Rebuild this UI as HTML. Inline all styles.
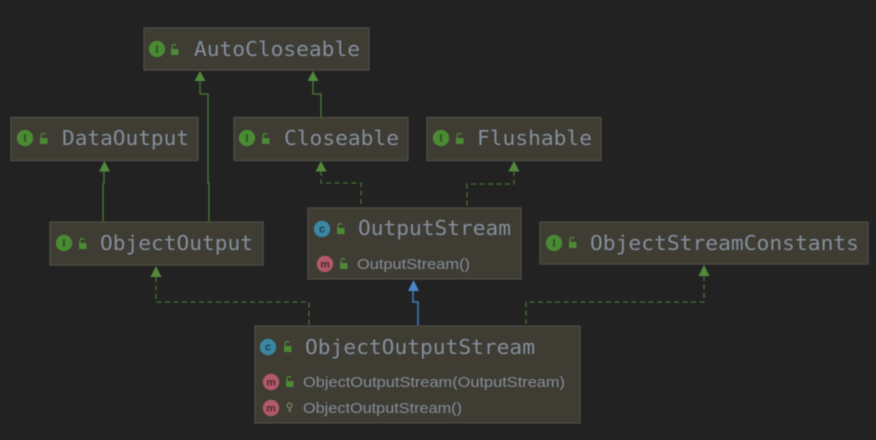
<!DOCTYPE html>
<html><head><meta charset="utf-8">
<style>
html,body{margin:0;padding:0;background:#222222;width:876px;height:440px;overflow:hidden}
svg{display:block;filter:blur(0.5px)}
.t{font-family:"DejaVu Sans Mono","Liberation Mono",monospace;font-size:20.5px;fill:#848e9c}
.m{font-family:"Liberation Sans",sans-serif;font-size:15px;fill:#868d98}
.b{fill:#3e3c33;stroke:#514f47;stroke-width:1.2}
.s{fill:none;stroke:#4a7c35;stroke-width:1.3}
.d{stroke-dasharray:5 3.5;stroke:#467233}
.a{fill:#528a3a}
.i{font-family:"Liberation Serif",serif;font-size:10px;font-weight:bold;text-anchor:middle}
</style></head><body>
<svg width="876" height="440" viewBox="0 0 876 440" xmlns="http://www.w3.org/2000/svg">
<defs>
<g id="lock"><rect x="-2" y="-1" width="7.500" height="6" fill="#4e8a36"/><path d="M-1-1V-3.600a2.200 2.200 0 0 1 4.200-.6" fill="none" stroke="#4e8a36" stroke-width="1.200"/></g>
<g id="ii"><circle r="8.200" fill="#4a8a33"/><text class="i" y="3.500" fill="#2a4a20">I</text></g>
<g id="cc"><circle r="8.200" fill="#3a87a3"/><text x="0" y="3.600" font-family="Liberation Sans,sans-serif" font-size="11" font-weight="bold" text-anchor="middle" fill="#1f3f4e">c</text></g>
<g id="mm"><circle r="8.200" fill="#b2596b"/><text x="0" y="3.400" font-family="Liberation Sans,sans-serif" font-size="10.500" font-weight="bold" text-anchor="middle" fill="#4f2630">m</text></g>
</defs>
<rect width="876" height="440" fill="#222222"/>

<!-- connectors -->
<path class="s" d="M200 81V94H208V183H209V222"/>
<path class="a" d="M200 71L205.500 81H194.500Z"/>
<path class="s" d="M313 81V94H321V117"/>
<path class="a" d="M313 71L318.500 81H307.500Z"/>
<path class="s" d="M104 171V184H103V222"/>
<path class="a" d="M104.500 161L110 171.500H99Z"/>
<path class="s d" d="M321 171V183H361V208"/>
<path class="a" d="M321 161L326.500 171.500H315.500Z"/>
<path class="s d" d="M514 171V184H467V208"/>
<path class="a" d="M514 161L519.500 171.500H508.500Z"/>
<path class="s d" d="M704 276V302H526V326"/>
<path class="a" d="M704 265L709.500 276H698.500Z"/>
<path class="s d" d="M156 277V302H309V326"/>
<path class="a" d="M156 266L161.500 277H150.500Z"/>
<path fill="none" stroke="#3f78b8" stroke-width="1.600" d="M413 290V302H418V326"/>
<path fill="#4a86c8" d="M413.500 280L419 291H408Z"/>

<!-- AutoCloseable -->
<rect class="b" x="144" y="28" width="225" height="42"/>
<use href="#ii" x="157" y="49"/><use href="#lock" x="173" y="50"/>
<text class="t" x="194" y="56" textLength="166" lengthAdjust="spacingAndGlyphs">AutoCloseable</text>

<!-- DataOutput -->
<rect class="b" x="11" y="117.500" width="187" height="43"/>
<use href="#ii" x="25" y="138"/><use href="#lock" x="42" y="139"/>
<text class="t" x="62" y="145" textLength="127" lengthAdjust="spacingAndGlyphs">DataOutput</text>

<!-- Closeable -->
<rect class="b" x="234" y="117.500" width="174" height="43"/>
<use href="#ii" x="247" y="138"/><use href="#lock" x="264" y="139"/>
<text class="t" x="284" y="145" textLength="115" lengthAdjust="spacingAndGlyphs">Closeable</text>

<!-- Flushable -->
<rect class="b" x="427" y="117.500" width="174" height="43"/>
<use href="#ii" x="441" y="138"/><use href="#lock" x="458" y="139"/>
<text class="t" x="477" y="145" textLength="115" lengthAdjust="spacingAndGlyphs">Flushable</text>

<!-- ObjectOutput -->
<rect class="b" x="50" y="222" width="213" height="43"/>
<use href="#ii" x="64" y="243"/><use href="#lock" x="81" y="244"/>
<text class="t" x="100" y="250" textLength="153" lengthAdjust="spacingAndGlyphs">ObjectOutput</text>

<!-- OutputStream -->
<rect class="b" x="308" y="208" width="213" height="71"/>
<use href="#cc" x="322" y="229"/><use href="#lock" x="339" y="229"/>
<text class="t" x="358" y="235" textLength="153" lengthAdjust="spacingAndGlyphs">OutputStream</text>
<use href="#mm" x="325" y="264"/><use href="#lock" x="342" y="264"/>
<text class="m" x="357" y="269" textLength="113" lengthAdjust="spacingAndGlyphs">OutputStream()</text>

<!-- ObjectStreamConstants -->
<rect class="b" x="540" y="222" width="328" height="42"/>
<use href="#ii" x="554" y="243"/><use href="#lock" x="571" y="243"/>
<text class="t" x="590" y="250" textLength="269" lengthAdjust="spacingAndGlyphs">ObjectStreamConstants</text>

<!-- ObjectOutputStream -->
<rect class="b" x="255" y="326" width="325" height="97"/>
<use href="#cc" x="268" y="347"/><use href="#lock" x="286" y="347"/>
<text class="t" x="305" y="354" textLength="230" lengthAdjust="spacingAndGlyphs">ObjectOutputStream</text>
<use href="#mm" x="271" y="382"/><use href="#lock" x="288" y="382"/>
<text class="m" x="303" y="387" textLength="262" lengthAdjust="spacingAndGlyphs">ObjectOutputStream(OutputStream)</text>
<use href="#mm" x="271" y="408"/>
<g fill="none" stroke="#8b8a60" stroke-width="1.100"><circle cx="289.500" cy="405.500" r="2.400"/><path d="M289.500 408V412M289.500 410.500H291.500"/></g>
<text class="m" x="303" y="413" textLength="159" lengthAdjust="spacingAndGlyphs">ObjectOutputStream()</text>
</svg>
</body></html>
